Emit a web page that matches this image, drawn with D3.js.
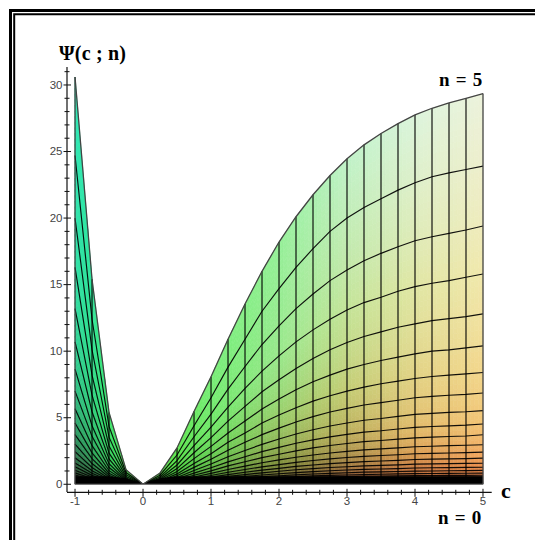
<!DOCTYPE html>
<html><head><meta charset="utf-8">
<script src="https://cdn.jsdelivr.net/npm/d3@7/dist/d3.min.js"></script>
<style>html,body{margin:0;padding:0;background:#fff}svg{display:block}</style>
</head><body><svg id="chart" width="535" height="540"></svg>
<script>
// Parameter c at each grid column
const cValues = [-1,-0.75,-0.5,-0.25,0,0.25,0.5,0.75,1,1.25,1.5,1.75,2,2.25,2.5,2.75,3,3.25,3.5,3.75,4,4.25,4.5,4.75,5];
// Parameter n at each grid row
const nValues = [5,4.8,4.6,4.4,4.2,4,3.8,3.6,3.4,3.2,3,2.8,2.6,2.4,2.2,2,1.8,1.6,1.4,1.2,1,0.8,0.6,0.4,0.2,0];
// Psi(c; n), one list per n
const psiN50 = [30.6,15.4,5.4,1.1,0,0.85,2.73,5.47,8.08,10.9,13.55,16,18.2,20.1,21.75,23.2,24.45,25.5,26.35,27.1,27.75,28.25,28.65,29.0,29.35];
const psiN48 = [24.7,12.4,4.35,0.88,0,0.68,2.2,4.4,6.5,8.8,10.9,13,14.7,16.3,17.7,19,20,20.8,21.45,22.1,22.65,23.1,23.4,23.65,23.9];
const psiN46 = [20.0,10.1,3.54,0.72,0,0.55,1.78,3.57,5.27,7.15,8.85,10.5,11.9,13.2,14.3,15.3,16.1,16.8,17.35,17.85,18.3,18.6,18.85,19.1,19.4];
const psiN44 = [16.3,8.2,2.88,0.58,0,0.45,1.45,2.9,4.3,5.8,7.2,8.5,9.65,10.7,11.6,12.4,13.1,13.65,14.05,14.5,14.85,15.1,15.3,15.55,15.8];
const psiN42 = [13.2,6.7,2.34,0.47,0,0.37,1.18,2.37,3.5,4.75,5.85,6.95,7.85,8.7,9.45,10.1,10.65,11.1,11.45,11.8,12.05,12.3,12.45,12.6,12.8];
const psiN40 = [10.7,5.45,1.9,0.38,0,0.3,0.96,1.93,2.85,3.85,4.75,5.65,6.4,7.1,7.7,8.2,8.65,9.0,9.3,9.55,9.8,10.0,10.1,10.25,10.4];
const psiN38 = [8.65,4.4,1.54,0.31,0,0.24,0.78,1.56,2.3,3.15,3.85,4.6,5.2,5.75,6.25,6.65,7.0,7.3,7.55,7.75,7.95,8.1,8.2,8.3,8.4];
const psiN36 = [7.0,3.6,1.26,0.26,0,0.2,0.64,1.27,1.88,2.56,3.15,3.73,4.22,4.68,5.08,5.43,5.7,5.96,6.13,6.31,6.5,6.6,6.69,6.76,6.86];
const psiN34 = [5.68,2.9,1.02,0.21,0,0.16,0.51,1.03,1.52,2.07,2.54,3.0,3.4,3.78,4.1,4.38,4.6,4.81,4.94,5.1,5.25,5.33,5.4,5.45,5.53];
const psiN32 = [4.6,2.36,0.83,0.17,0,0.13,0.42,0.84,1.24,1.68,2.07,2.45,2.77,3.08,3.34,3.56,3.75,3.92,4.02,4.15,4.27,4.34,4.39,4.44,4.53];
const psiN30 = [3.73,1.93,0.68,0.14,0,0.11,0.34,0.68,1.01,1.38,1.69,2.0,2.26,2.51,2.73,2.91,3.06,3.2,3.29,3.39,3.49,3.54,3.59,3.63,3.72];
const psiN28 = [3.02,1.56,0.55,0.11,0,0.09,0.28,0.55,0.82,1.11,1.36,1.62,1.83,2.03,2.2,2.35,2.47,2.59,2.66,2.74,2.82,2.86,2.9,2.93,2.97];
const psiN26 = [2.45,1.26,0.44,0.09,0,0.07,0.22,0.45,0.66,0.9,1.11,1.31,1.48,1.65,1.79,1.91,2.01,2.1,2.16,2.22,2.29,2.32,2.35,2.38,2.42];
const psiN24 = [1.99,1.02,0.36,0.07,0,0.06,0.18,0.36,0.54,0.73,0.9,1.06,1.2,1.34,1.45,1.55,1.63,1.7,1.75,1.8,1.86,1.89,1.91,1.93,1.97];
const psiN22 = [1.6,0.83,0.29,0.06,0,0.05,0.15,0.3,0.44,0.59,0.73,0.86,0.98,1.09,1.18,1.26,1.32,1.38,1.42,1.46,1.51,1.53,1.55,1.57,1.58];
const psiN20 = [1.31,0.67,0.24,0.05,0,0.04,0.12,0.24,0.35,0.48,0.59,0.7,0.79,0.88,0.95,1.02,1.07,1.12,1.15,1.18,1.22,1.24,1.25,1.27,1.28];
const psiN18 = [1.06,0.55,0.19,0.04,0,0.03,0.1,0.19,0.29,0.39,0.48,0.57,0.64,0.71,0.77,0.82,0.87,0.91,0.93,0.96,0.99,1.0,1.02,1.03,1.04];
const psiN16 = [0.86,0.44,0.15,0.03,0,0.02,0.08,0.16,0.23,0.32,0.39,0.46,0.52,0.58,0.63,0.67,0.7,0.73,0.75,0.78,0.8,0.81,0.82,0.83,0.84];
const psiN14 = [0.7,0.36,0.13,0.03,0,0.02,0.06,0.13,0.19,0.26,0.31,0.37,0.42,0.47,0.51,0.54,0.57,0.6,0.61,0.63,0.65,0.66,0.67,0.67,0.68];
const psiN12 = [0.57,0.29,0.1,0.02,0,0.02,0.05,0.1,0.15,0.21,0.25,0.3,0.34,0.38,0.41,0.44,0.46,0.48,0.49,0.51,0.52,0.53,0.54,0.55,0.55];
const psiN10 = [0.46,0.23,0.08,0.02,0,0.01,0.04,0.08,0.12,0.17,0.21,0.24,0.28,0.31,0.33,0.35,0.37,0.39,0.4,0.41,0.42,0.43,0.44,0.44,0.45];
const psiN08 = [0.37,0.19,0.07,0.01,0,0.01,0.03,0.07,0.1,0.14,0.17,0.2,0.22,0.25,0.27,0.29,0.3,0.31,0.32,0.33,0.34,0.35,0.35,0.36,0.36];
const psiN06 = [0.3,0.15,0.05,0.01,0,0.01,0.03,0.05,0.08,0.11,0.14,0.16,0.18,0.2,0.22,0.23,0.25,0.26,0.26,0.27,0.28,0.28,0.29,0.29,0.29];
const psiN04 = [0.24,0.12,0.04,0.01,0,0.01,0.02,0.04,0.07,0.09,0.11,0.13,0.15,0.16,0.18,0.19,0.2,0.21,0.21,0.22,0.23,0.23,0.23,0.24,0.24];
const psiN02 = [0.19,0.1,0.03,0.01,0,0,0.02,0.03,0.05,0.07,0.09,0.1,0.12,0.13,0.14,0.15,0.16,0.17,0.17,0.18,0.18,0.18,0.19,0.19,0.19];
const psiN00 = [0,0,0,0,0,0,0,0,0,0,0,0,0,0,0,0,0,0,0,0,0,0,0,0,0];
// Height below which the mesh lines merge into solid black
const denseBand = [0.6,0.6,0.6,0.45,0,0.45,0.6,0.6,0.6,0.6,0.6,0.6,0.6,0.6,0.6,0.6,0.6,0.6,0.6,0.6,0.6,0.6,0.6,0.6,0.6];
const psiRows = [psiN50,psiN48,psiN46,psiN44,psiN42,psiN40,psiN38,psiN36,psiN34,psiN32,psiN30,psiN28,psiN26,psiN24,psiN22,psiN20,psiN18,psiN16,psiN14,psiN12,psiN10,psiN08,psiN06,psiN04,psiN02,psiN00];
// Axis ticks
const yMajorTicks = [0,5,10,15,20,25,30];
const yMinorTicks = [1,2,3,4,6,7,8,9,11,12,13,14,16,17,18,19,21,22,23,24,26,27,28,29,31];
const xMajorTicks = [-1,0,1,2,3,4,5];
const xMinorTicks = [-0.8,-0.6,-0.4,-0.2,0.2,0.4,0.6,0.8,1.2,1.4,1.6,1.8,2.2,2.4,2.6,2.8,3.2,3.4,3.6,3.8,4.2,4.4,4.6,4.8];

// Surface shading: colours at chosen columns (c) and row positions
const shadeC = [-1,-0.75,-0.5,-0.25,0,0.5,1,2,3,4,5];
const shadeRows = [0,3,6,9,12,15,18,25];
const shadeTable = [
 ["#30e8b8","#35e8a0","#40e870","#50e050","#50e040","#60e850","#78ee78","#96f098","#c0f2c8","#dcf4dc","#ecf2dc"],
 ["#30e0a8","#30dc88","#38dc64","#40d44c","#40d040","#55dc48","#70e868","#9ae88c","#c4e498","#e0e6a4","#f0e8ac"],
 ["#2fc88c","#30c470","#35c458","#38bc44","#38bc3c","#48c43c","#68d054","#9ad06c","#c4cc74","#e2d284","#f2d68c"],
 ["#2fa46c","#2fa45a","#30a448","#309e3e","#30a034","#40a434","#60b444","#92b054","#bcae5c","#e2bc6c","#f2c474"],
 ["#308054","#308048","#30803e","#308034","#30802c","#38802c","#508c34","#808e3c","#aa8e4c","#da9e54","#f2ac64"],
 ["#2f6440","#2f6438","#306434","#30642c","#306424","#306424","#486a2c","#706e34","#9a6e3c","#ca7c44","#ea8e4c"],
 ["#304830","#30482c","#30482c","#304824","#304824","#304824","#404c24","#60542c","#845434","#aa6034","#cc7444"],
 ["#000000","#000000","#000000","#000000","#000000","#000000","#000000","#000000","#000000","#000000","#000000"]
];

const svg = d3.select("#chart");
const x = d3.scaleLinear().domain([-1.118,5.128]).range([67,491.7]);
const y = d3.scaleLinear().domain([-0.58,31.35]).range([492,67]);
const colC = d3.scaleLinear().domain(shadeC).range(shadeC.map((d,i)=>i));
const colK = d3.scaleLinear().domain(shadeRows).range(shadeRows.map((d,i)=>i));
function shade(c,k){
  const a = Math.min(colC(c),shadeC.length-1.0001), b = Math.min(colK(k),shadeRows.length-1.0001);
  const i = Math.floor(a), j = Math.floor(b);
  const top = d3.interpolateRgb(shadeTable[j][i],shadeTable[j][i+1])(a-i);
  const bot = d3.interpolateRgb(shadeTable[j+1][i],shadeTable[j+1][i+1])(a-i);
  return d3.interpolateRgb(top,bot)(b-j);
}

// Frame: open double rule on the top and left
const frame = svg.append("g").attr("stroke","#000").attr("fill","none");
frame.append("path").attr("stroke-width",3).attr("d","M10.5,540V10.5H535");
frame.append("path").attr("stroke-width",2).attr("d","M14.2,540V14.2H535");

// Shaded cells
const cells = [];
for (let k=0;k<psiRows.length-1;k++){
  for (let i=0;i<cValues.length-1;i++){
    const h = Math.max(Math.abs(y(psiRows[k][i])-y(psiRows[k+1][i])),Math.abs(y(psiRows[k][i+1])-y(psiRows[k+1][i+1])));
    const ny = Math.max(1,Math.ceil(h/6)), nx = 4;
    const lerp = (u,v)=>{
      const a = psiRows[k][i]+(psiRows[k][i+1]-psiRows[k][i])*u;
      const b = psiRows[k+1][i]+(psiRows[k+1][i+1]-psiRows[k+1][i])*u;
      return [x(cValues[i]+(cValues[i+1]-cValues[i])*u), y(a+(b-a)*v)];
    };
    for (let p=0;p<nx;p++) for (let q=0;q<ny;q++){
      const pts=[lerp(p/nx,q/ny),lerp((p+1)/nx,q/ny),lerp((p+1)/nx,(q+1)/ny),lerp(p/nx,(q+1)/ny)];
      cells.push({pts,color:shade(cValues[i]+(cValues[i+1]-cValues[i])*(p+.5)/nx,k+(q+.5)/ny)});
    }
  }
}
svg.append("g").selectAll("path").data(cells).join("path")
  .attr("d",d=>"M"+d.pts.join("L")+"Z")
  .attr("fill",d=>d.color).attr("stroke",d=>d.color).attr("stroke-width",0.6);

// Solid black band at the foot of the surface
svg.append("path").datum(denseBand)
  .attr("d",d3.area().x((d,i)=>x(cValues[i])).y0(y(0)).y1(d=>y(d)))
  .attr("fill","#000");

// Mesh lines
const rowLine = d3.line().x((d,i)=>x(cValues[i])).y(d=>y(d));
svg.append("g").attr("fill","none").attr("stroke","#000").attr("stroke-width",1.15).attr("stroke-opacity",0.92)
  .selectAll("path").data(psiRows.slice(1)).join("path").attr("d",rowLine);
const columns = cValues.map((c,i)=>psiRows.map(r=>({c,v:r[i]})));
const colLine = d3.line().x(d=>x(d.c)).y(d=>y(d.v));
svg.append("g").attr("fill","none").attr("stroke","#000").attr("stroke-width",1.25).attr("stroke-opacity",0.88)
  .selectAll("path").data(columns.slice(1,-1)).join("path").attr("d",colLine);
// Surface outline
const edge = svg.append("g").attr("fill","none").attr("stroke","#444").attr("stroke-width",1.3);
edge.append("path").datum(psiN50).attr("d",rowLine);
edge.append("path").datum(columns[0]).attr("d",colLine);
edge.append("path").datum(columns[columns.length-1]).attr("d",colLine);
edge.append("path").datum(psiN00).attr("d",rowLine).attr("stroke","#777");

// Axes
const axisInk = "#111", labelInk = "#444";
const plainLabel = d => String(d);
const yAxisG = svg.append("g").attr("transform","translate(67,0)")
  .call(d3.axisLeft(y).tickValues(yMajorTicks).tickFormat(plainLabel).tickSizeOuter(0).tickSize(0).tickPadding(4.5).offset(0));
yAxisG.selectAll(".tick line").attr("x1",-3.5).attr("x2",4).attr("stroke",axisInk).attr("stroke-width",1);
const yMinorG = svg.append("g").attr("transform","translate(67,0)")
  .call(d3.axisLeft(y).tickValues(yMinorTicks).tickSizeOuter(0).tickSize(0).tickFormat("").offset(0));
yMinorG.selectAll(".tick line").attr("x1",-2.5).attr("x2",2.5).attr("stroke",axisInk);
yMinorG.select(".domain").attr("stroke","none");

const xAxisG = svg.append("g").attr("transform","translate(0,492.3)")
  .call(d3.axisBottom(x).tickValues(xMajorTicks).tickFormat(plainLabel).tickSizeOuter(0).tickSize(0).tickPadding(4.5).offset(0));
xAxisG.selectAll(".tick line").attr("y1",-3.5).attr("y2",4.5).attr("stroke",axisInk);
const xMinorG = svg.append("g").attr("transform","translate(0,492.3)")
  .call(d3.axisBottom(x).tickValues(xMinorTicks).tickSizeOuter(0).tickSize(0).tickFormat("").offset(0));
xMinorG.selectAll(".tick line").attr("y1",-2.5).attr("y2",2.5).attr("stroke",axisInk);
xMinorG.select(".domain").attr("stroke","none");
[yAxisG,xAxisG].forEach(g=>{
  g.select(".domain").attr("stroke",axisInk).attr("stroke-width",1.2);
  g.selectAll("text").attr("font-family","'Liberation Sans',Arial,sans-serif").attr("font-size",11.5).attr("fill",labelInk);
});

// Titles
const serif = "'Liberation Serif','Times New Roman',serif";
const titles = [
  {t:"Ψ(c ; n)",x:59,y:60,s:20,a:"start",ls:0.2},
  {t:"n = 5",x:483,y:86,s:19,a:"end",ls:0.7},
  {t:"n = 0",x:482,y:524,s:19,a:"end",ls:0.7},
  {t:"c",x:501,y:498,s:22,a:"start",ls:0}
];
svg.append("g").selectAll("text").data(titles).join("text")
  .text(d=>d.t).attr("x",d=>d.x).attr("y",d=>d.y).attr("font-size",d=>d.s).attr("letter-spacing",d=>d.ls)
  .attr("text-anchor",d=>d.a).attr("font-family",serif).attr("font-weight","bold").attr("fill","#000");
</script></body></html>
